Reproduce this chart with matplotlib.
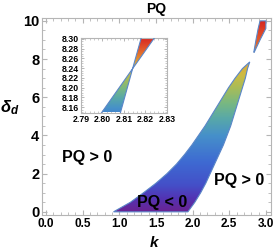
import numpy as np
import matplotlib
matplotlib.use("Agg")
import matplotlib.pyplot as plt
from matplotlib.colors import LinearSegmentedColormap, Normalize
from matplotlib.patches import Polygon
from matplotlib.ticker import MultipleLocator, FormatStrFormatter

plt.rcParams['font.family'] = ['Liberation Sans', 'DejaVu Sans']
plt.rcParams['mathtext.fontset'] = 'custom'
plt.rcParams['mathtext.it'] = 'Liberation Sans:italic:bold'
plt.rcParams['mathtext.rm'] = 'Liberation Sans:bold'

# ---- data: boundaries of the PQ < 0 region (k as function of delta_d) ----
delta_lower = [0, 0.5, 1, 1.5, 2, 2.5, 3, 3.5, 4, 4.5, 5, 5.5, 6, 6.5, 7, 7.5, 7.85]
k_left_lower = [0.92, 1.15, 1.33, 1.50, 1.65, 1.78, 1.89, 1.99, 2.08, 2.17, 2.25,
                2.33, 2.41, 2.49, 2.58, 2.68, 2.78]
k_right_lower = [1.935, 2.03, 2.11, 2.18, 2.24, 2.30, 2.36, 2.42, 2.47, 2.52, 2.56,
                 2.60, 2.64, 2.68, 2.72, 2.75, 2.78]

delta_upper = [8.35, 9.0, 9.6, 10.0]
k_left_upper = [2.835, 2.865, 2.895, 2.92]
k_right_upper = [2.84, 2.92, 3.0, 3.0]

delta_inset = [8.14, 8.239, 8.31]
k_a_inset = [2.7982, 2.814, 2.8254]
k_b_inset = [2.8078, 2.814, 2.8185]

x_ticks = [0.0, 0.5, 1.0, 1.5, 2.0, 2.5, 3.0]
y_ticks = [0, 2, 4, 6, 8, 10]
inset_x_ticks = [2.79, 2.80, 2.81, 2.82, 2.83]
inset_y_ticks = [8.16, 8.18, 8.20, 8.22, 8.24, 8.26, 8.28, 8.30]

cmap = LinearSegmentedColormap.from_list("rainbow_m", [
    (0.00, "#6a2392"), (0.07, "#5234b4"), (0.14, "#4450c8"), (0.26, "#3e6ad2"),
    (0.40, "#4690ca"), (0.49, "#58a8a8"), (0.57, "#78b882"), (0.65, "#a8bc58"),
    (0.72, "#cdbb42"), (0.78, "#dca83a"), (0.84, "#e3842e"), (0.92, "#e0522a"),
    (1.00, "#d82a22")])

EDGE = "#5a86c8"
FRAME = "#b5b5b5"


def region(ax, delta, kl, kr, norm, xr, yr):
    verts = list(zip(kl, delta)) + list(zip(kr, delta))[::-1]
    poly = Polygon(verts, closed=True, facecolor="none", edgecolor=EDGE, lw=0.8, zorder=3)
    ax.add_patch(poly)
    grad = np.linspace(yr[0], yr[1], 300).reshape(-1, 1)
    im = ax.imshow(grad, extent=[xr[0], xr[1], yr[0], yr[1]], origin="lower",
                   cmap=cmap, norm=norm, aspect="auto", interpolation="bilinear", zorder=2)
    clip = Polygon(verts, closed=True, transform=ax.transData)
    im.set_clip_path(clip)


def style(ax, color=FRAME):
    for s in ax.spines.values():
        s.set_color(color)
        s.set_linewidth(0.8)
    ax.tick_params(which="both", direction="in", top=True, right=True, color=color)


fig = plt.figure(figsize=(2.77, 2.49), dpi=100)
ax = fig.add_axes([0.152, 0.137, 0.825, 0.790])
norm_main = Normalize(0, 10)
region(ax, delta_lower, k_left_lower, k_right_lower, norm_main, (0.8, 3.1), (0, 10))
region(ax, delta_upper, k_left_upper, k_right_upper, norm_main, (2.7, 3.1), (0, 10))
ax.set_xlim(-0.055, 3.065)
ax.set_ylim(-0.16, 10.14)
ax.set_xticks(x_ticks)
ax.set_yticks(y_ticks)
ax.xaxis.set_minor_locator(MultipleLocator(0.1))
ax.yaxis.set_minor_locator(MultipleLocator(0.5))
ax.xaxis.set_major_formatter(FormatStrFormatter("%.1f"))
style(ax)
ax.tick_params(which="major", length=3.5, width=0.8)
ax.tick_params(which="minor", length=2, width=0.6)
ax.tick_params(axis="x", labelsize=8.5, pad=2)
ax.tick_params(axis="y", labelsize=10.5, pad=2)
for lab in ax.get_xticklabels() + ax.get_yticklabels():
    lab.set_fontweight("bold")

ax.set_title("PQ", fontsize=10, fontweight="bold", pad=4)
fig.text(154.7 / 277, 1 - 242 / 249, "$k$", fontsize=11, ha="center", va="center")
fig.text(10 / 277, 1 - 108 / 249, r"$\delta_d$", fontsize=12, ha="center", va="center")

ax.text(0.56, 2.83, "PQ > 0", fontsize=11.5, fontweight="bold", ha="center", va="center", zorder=5)
ax.text(2.63, 1.63, "PQ > 0", fontsize=11.5, fontweight="bold", ha="center", va="center", zorder=5)
ax.text(1.58, 0.49, "PQ < 0", fontsize=11.5, fontweight="bold", ha="center", va="center", zorder=5)

# ---- inset ----
axi = fig.add_axes([81 / 277, 1 - 112.5 / 249, 86 / 277, 74.5 / 249])
axi.set_facecolor("white")
norm_in = Normalize(8.06, 8.30)
region(axi, delta_inset, k_a_inset, k_b_inset, norm_in, (2.79, 2.83), (8.14, 8.31))
axi.set_xlim(2.79, 2.83)
axi.set_ylim(8.149, 8.302)
axi.set_xticks(inset_x_ticks)
axi.set_yticks(inset_y_ticks)
axi.xaxis.set_minor_locator(MultipleLocator(0.002))
axi.yaxis.set_minor_locator(MultipleLocator(0.005))
axi.xaxis.set_major_formatter(FormatStrFormatter("%.2f"))
axi.yaxis.set_major_formatter(FormatStrFormatter("%.2f"))
style(axi)
axi.tick_params(which="major", length=2.5, width=0.7, labelsize=6.3, pad=1.5)
axi.tick_params(which="minor", length=1.3, width=0.5)
for lab in axi.get_xticklabels() + axi.get_yticklabels():
    lab.set_fontweight("bold")

fig.savefig("out.png", dpi=100)
